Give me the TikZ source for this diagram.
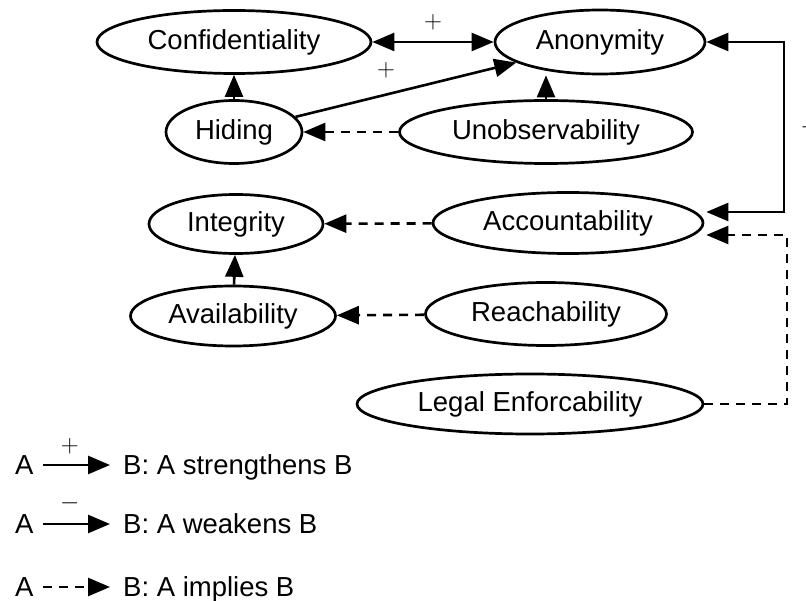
\documentclass[tikz,border=0pt]{standalone}
\usepackage{fontspec}
\setmainfont{Liberation Sans}
\usetikzlibrary{arrows.meta,shapes.geometric}
\begin{document}
\begin{tikzpicture}[x=1pt,y=-1pt,
  prop/.style={ellipse,draw,line width=2.7pt,inner sep=0pt,
    font=\fontsize{27.5}{32}\selectfont},
  link/.style={line width=2.6pt,-{Triangle[length=22pt,width=18pt]}},
  both/.style={line width=2.6pt,
    {Triangle[length=22pt,width=18pt]}-{Triangle[length=22pt,width=18pt]}},
  implies/.style={link,dash pattern=on 9pt off 7pt},
  sign/.style={font=\fontsize{24}{28}\selectfont,inner sep=0pt},
  legtext/.style={font=\fontsize{27.5}{32}\selectfont,inner sep=0pt,anchor=base west}]
\useasboundingbox (0,0) rectangle (806,601);

% security properties
\node[prop,minimum width=274pt,minimum height=63pt] (conf)  at (234,42)  {Confidentiality};
\node[prop,minimum width=210pt,minimum height=64pt] (anon)  at (600,42)  {Anonymity};
\node[prop,minimum width=136pt,minimum height=63pt] (hid)   at (234,132) {Hiding};
\node[prop,minimum width=293pt,minimum height=63pt] (unobs) at (546,132) {Unobservability};
\node[prop,minimum width=174pt,minimum height=59pt] (integ) at (236,224) {Integrity};
\node[prop,minimum width=270pt,minimum height=61pt] (acc)   at (568,223) {Accountability};
\node[prop,minimum width=205pt,minimum height=60pt] (avail) at (233,316) {Availability};
\node[prop,minimum width=241pt,minimum height=63pt] (reach) at (546,314) {Reachability};
\node[prop,minimum width=346pt,minimum height=60pt] (legal) at (530,404) {Legal Enforcability};

% routing columns on the right
\coordinate (rt)  at (784,0);
\coordinate (rt2) at (787,0);

% relations
\draw[both] (conf) -- node[sign,above=11pt] {$+$} (anon);
\draw[link] (hid) -- node[sign,pos=0.41,above=15pt] {$+$} (anon);
\draw[link] (hid) -- (conf);
\draw[link] (unobs.north) -- (unobs.north |- anon.south);
\draw[implies] (unobs) -- (hid);
\draw[implies] (acc) -- (integ);
\draw[link] (avail) -- (integ);
\draw[implies] (reach) -- (avail);
\draw[both] (anon.east) -- (anon.east -| rt)
  |- node[sign,pos=0.25,right=15pt] {$-$} ([shift={(2pt,11pt)}]acc.east);
\draw[implies] (legal.east) -- (legal.east -| rt2) |- ([shift={(2pt,-12pt)}]acc.east);

% legend
\node[legtext] (la1) at (15,475) {A};
\node[legtext] (lb1) at (123,475) {B: A strengthens B};
\coordinate (l1s) at (43,465);
\coordinate (l1e) at (110,465);
\draw[link] (l1s) -- node[sign,pos=0.4,above=10pt] {$+$} (l1e);

\node[legtext] (la2) at (15,533) {A};
\node[legtext] (lb2) at (123,533) {B: A weakens B};
\coordinate (l2s) at (43,524);
\coordinate (l2e) at (110,524);
\draw[link] (l2s) -- node[sign,pos=0.4,above=11pt] {$-$} (l2e);

\node[legtext] (la3) at (15,596) {A};
\node[legtext] (lb3) at (123,596) {B: A implies B};
\coordinate (l3s) at (43,587);
\coordinate (l3e) at (110,587);
\draw[implies] (l3s) -- (l3e);
\end{tikzpicture}
\end{document}
